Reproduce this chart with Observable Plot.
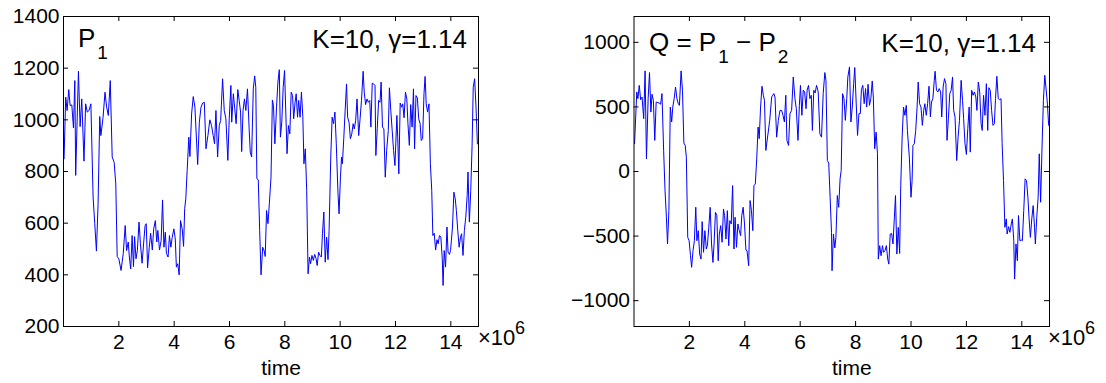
<!DOCTYPE html>
<html><head><meta charset="utf-8">
<script src="https://cdn.jsdelivr.net/npm/d3@7"></script>
<script src="https://cdn.jsdelivr.net/npm/@observablehq/plot@0.6"></script>
<style>
body{margin:0;background:#fff;}
#wrap{display:flex;width:1106px;height:383px;}
svg text{font-family:"Liberation Sans",Arial,Helvetica,sans-serif;}
</style></head><body><div id="wrap"></div>
<script>
// ---- data (time in units of 10^6) ----
const p1Time = [0.02,0.08,0.13,0.19,0.24,0.30,0.36,0.41,0.44,0.54,0.60,0.66,0.74,0.80,0.86,0.92,0.99,1.07,1.13,1.19,1.25,1.31,1.35,1.43,1.50,1.56,1.62,1.69,1.76,1.83,1.89,1.94,2.00,2.08,2.16,2.23,2.28,2.34,2.38,2.43,2.48,2.53,2.57,2.62,2.67,2.73,2.78,2.84,2.90,2.95,2.99,3.04,3.10,3.15,3.21,3.26,3.32,3.37,3.41,3.47,3.53,3.58,3.63,3.68,3.72,3.78,3.83,3.88,3.93,3.99,4.04,4.08,4.13,4.18,4.23,4.29,4.34,4.38,4.42,4.47,4.53,4.57,4.63,4.69,4.75,
4.85,4.91,4.97,5.03,5.09,5.15,5.22,5.29,5.35,5.41,5.46,5.51,5.57,5.63,5.68,5.75,5.81,5.87,5.94,5.99,6.05,6.08,6.14,6.19,6.24,6.30,6.35,6.40,6.44,6.49,6.54,6.59,6.65,6.71,6.75,6.80,6.86,6.91,6.95,6.99,7.04,7.09,7.14,7.20,7.25,7.29,7.34,7.39,7.44,7.50,7.55,7.59,7.64,7.70,7.75,7.80,7.84,7.89,7.94,7.99,8.04,8.08,8.13,8.18,8.23,8.28,8.32,8.37,8.41,8.46,8.50,8.55,8.60,8.65,8.69,8.74,8.79,8.84,8.89,8.93,8.98,9.03,9.08,9.13,9.17,9.22,9.27,9.32,9.36,9.41,9.46,9.51,9.56,9.60,9.66,9.71,9.76,9.81,9.86,9.92,9.96,
10.01,10.05,10.08,10.13,10.18,10.23,10.27,10.32,10.37,10.42,10.47,10.51,10.56,10.61,10.67,10.72,10.77,10.83,10.87,10.92,10.97,11.02,11.07,11.11,11.16,11.21,11.26,11.29,11.34,11.39,11.44,11.48,11.53,11.58,11.63,11.68,11.74,11.78,11.83,11.88,11.93,11.98,12.01,12.05,12.08,12.12,12.17,12.22,12.26,12.31,12.36,12.41,12.45,12.50,12.55,12.60,12.65,12.69,12.74,12.79,12.84,12.89,12.93,12.98,13.03,13.07,13.11,13.16,13.21,13.26,13.31,13.35,13.40,13.45,13.50,13.54,13.59,13.64,13.69,13.72,13.76,13.81,13.86,13.90,13.95,13.99,14.06,14.11,14.16,14.20,14.25,14.30,14.35,14.39,14.44,14.49,14.54,14.59,14.62,14.67,14.72,14.77,14.81,14.86,14.91,14.96];
const p1Values = [849,1088,1036,1117,1055,1058,969,1152,785,1188,974,1081,840,1062,1030,1036,1062,701,598,492,675,1013,939,1010,1107,1049,1017,1152,856,836,752,471,462,417,483,591,494,527,469,423,552,432,548,462,494,604,521,445,527,591,598,427,507,561,496,578,610,527,572,496,533,690,507,565,483,469,552,507,545,578,539,430,443,400,610,578,510,656,694,804,933,858,1023,1090,1049,
827,991,1049,1065,1068,888,939,1000,978,939,907,1036,856,978,997,1159,1036,1004,843,1004,1133,991,1101,1043,985,1117,1075,1030,877,1036,1081,1036,1120,965,875,856,1120,1170,1126,772,768,572,400,507,494,471,649,598,675,778,1077,1055,907,1049,1146,1194,933,991,1126,1191,1010,869,978,946,1107,1094,1004,1068,1101,1010,1075,1010,1107,1013,830,888,727,404,469,443,475,456,479,462,436,488,475,469,559,643,449,546,459,572,856,1010,985,1030,907,720,636,
778,856,830,927,1036,1139,1010,991,927,946,985,965,997,1081,939,1004,1075,1188,1107,1059,1081,1068,1075,972,1142,1139,1133,862,965,1075,1068,1146,972,965,778,881,959,1124,1036,959,881,823,907,1017,933,791,1065,1049,1062,1008,1107,1081,985,901,1059,972,1120,888,1094,1085,1004,985,920,927,1101,1168,1062,1030,1062,830,727,552,561,496,536,520,552,546,462,359,494,430,585,488,479,494,585,720,694,649,572,507,546,559,475,572,623,707,798,604,727,907,1126,1159,1049,907];

const qTime = [0.02,0.10,0.14,0.19,0.24,0.29,0.35,0.40,0.45,0.51,0.56,0.61,0.65,0.70,0.75,0.80,0.86,0.92,0.96,1.01,1.07,1.12,1.17,1.21,1.26,1.31,1.36,1.40,1.45,1.50,1.55,1.60,1.64,1.70,1.75,1.80,1.85,1.89,1.94,1.99,2.04,2.08,2.13,2.18,2.23,2.27,2.32,2.37,2.42,2.46,2.51,2.56,2.61,2.65,2.70,2.75,2.80,2.85,2.89,2.94,2.99,3.04,3.08,3.13,3.18,3.23,3.27,3.32,3.37,3.42,3.46,3.51,3.56,3.61,3.65,3.70,3.75,3.80,3.85,3.89,3.94,3.99,4.04,4.08,4.14,4.19,4.24,4.29,4.33,4.38,4.43,4.48,4.52,4.57,4.62,4.67,4.71,4.76,
4.90,4.97,5.05,5.09,5.15,5.21,5.27,5.33,5.38,5.43,5.48,5.52,5.58,5.63,5.69,5.75,5.81,5.86,5.92,5.97,6.01,6.06,6.11,6.16,6.21,6.25,6.30,6.35,6.40,6.44,6.49,6.54,6.59,6.65,6.71,6.77,6.83,6.89,6.93,6.98,7.03,7.08,7.13,7.15,7.20,7.25,7.29,7.34,7.39,7.44,7.48,7.53,7.58,7.63,7.68,7.72,7.78,7.83,7.88,7.93,7.97,8.02,8.07,8.12,8.17,8.21,8.26,8.31,8.36,8.40,8.45,8.50,8.55,8.60,8.64,8.69,8.74,8.79,8.82,8.87,8.92,8.97,9.01,9.06,9.11,9.16,9.20,9.25,9.30,9.35,9.40,9.44,9.49,9.54,9.59,9.63,9.68,9.73,9.78,9.83,9.87,
9.94,10.00,10.04,10.07,10.12,10.17,10.22,10.26,10.31,10.36,10.41,10.46,10.50,10.55,10.60,10.65,10.70,10.74,10.79,10.84,10.87,10.92,10.97,11.02,11.07,11.11,11.16,11.21,11.26,11.30,11.35,11.40,11.45,11.50,11.54,11.59,11.65,11.70,11.75,11.81,11.86,11.90,11.95,12.00,12.05,12.10,12.14,12.19,12.24,12.29,12.34,12.38,12.43,12.48,12.53,12.57,12.62,12.67,12.72,12.77,12.81,12.86,12.91,12.96,13.01,13.05,13.10,13.15,13.20,13.25,13.29,13.34,13.39,13.44,13.47,13.52,13.57,13.62,13.66,13.71,13.74,13.79,13.84,13.88,13.93,13.98,14.02,14.07,14.12,14.17,14.22,14.26,14.31,14.36,14.41,14.46,14.49,14.54,14.59,14.63,14.68,14.73,14.78,14.83,14.87,14.92,14.97];
const qValues = [215,616,564,667,556,577,409,779,98,564,766,460,598,551,241,538,533,530,520,603,163,-147,-354,-561,-303,499,383,499,564,654,564,525,512,779,629,220,202,111,-510,-536,-652,-742,-613,-536,-277,-536,-458,-639,-678,-388,-626,-458,-600,-574,-432,-277,-561,-704,-561,-316,-341,-691,-484,-419,-548,-290,-341,-523,-303,-574,-380,-406,-109,-600,-354,-587,-406,-458,-497,-341,-277,-406,-608,-613,-730,-225,-303,-458,-109,-96,98,344,254,499,660,590,551,163,
396,577,603,577,266,396,473,473,435,383,590,241,202,448,473,732,564,486,241,512,667,435,629,616,486,629,667,564,590,318,629,608,667,616,292,266,603,766,706,85,65,-199,-471,-768,-484,-592,-510,-186,-277,-57,8,603,564,396,564,732,810,383,499,680,805,538,279,448,448,634,667,525,642,499,675,512,564,701,577,176,305,137,-678,-574,-652,-574,-626,-613,-574,-678,-717,-484,-479,-561,-354,-186,-639,-432,-634,-109,266,499,435,512,318,
111,-199,-70,202,215,318,499,693,525,499,357,473,525,435,525,660,422,538,564,706,776,629,616,642,616,422,654,719,680,241,409,603,629,732,473,422,85,266,396,706,551,409,215,132,331,499,150,629,590,616,577,473,693,616,370,318,590,435,680,318,649,629,473,357,370,564,737,564,556,564,215,-70,-432,-367,-484,-427,-471,-406,-367,-536,-833,-561,-691,-341,-536,-530,-536,-303,-57,-70,-199,-354,-510,-367,-264,-432,-561,-354,-199,137,-238,189,551,745,654,538,357];

const xTicks = [2, 4, 6, 8, 10, 12, 14];
const p1Ticks = [200, 400, 600, 800, 1000, 1200, 1400];
const qTicks = [-1000, -500, 0, 500, 1000];
const xDomain = [0, 15];
const p1Domain = [200, 1400];
const qDomain = [-1200, 1200];
const annotation = "K=10, \u03b3=1.14";

function panel({time, values, yDomain, yTicks, marginLeft, marginRight}) {
  const W = 553, H = 383, mt = 16, mb = 57;
  const pw = W - marginLeft - marginRight, ph = H - mt - mb;
  const data = time.map((t, i) => ({t, v: values[i]}));
  return Plot.plot({
    width: W, height: H, marginTop: mt, marginBottom: mb, marginLeft, marginRight,
    style: {fontFamily: "'Liberation Sans', Arial, sans-serif", fontSize: "21px", color: "#000", background: "#fff", overflow: "visible"},
    x: {domain: xDomain},
    y: {domain: yDomain},
    marks: [
      Plot.line(data, {x: "t", y: "v", stroke: "#0000ff", strokeWidth: 1}),
      Plot.tickX(xTicks, {x: d => d, insetTop: ph - 5, stroke: "#000"}),
      Plot.tickX(xTicks, {x: d => d, insetBottom: ph - 5, stroke: "#000"}),
      Plot.tickY(yTicks, {y: d => d, insetRight: pw - 5, stroke: "#000"}),
      Plot.tickY(yTicks, {y: d => d, insetLeft: pw - 5, stroke: "#000"}),
      Plot.frame({stroke: "#000"}),
      Plot.axisX({ticks: xTicks, tickSize: 0, tickPadding: 8, label: null, fontSize: 21, tickFormat: d => String(d)}),
      Plot.axisY({ticks: yTicks, tickSize: 0, tickPadding: 4, label: null, fontSize: 21, tickFormat: d => d < 0 ? "\u2212" + Math.abs(d) : String(d)}),
      Plot.text(["time"], {frameAnchor: "bottom", lineAnchor: "middle", dx: 10, dy: 42, fontSize: 21, text: d => d})
    ]
  });
}

const wrap = document.getElementById("wrap");

const left = panel({time: p1Time, values: p1Values, yDomain: p1Domain, yTicks: p1Ticks, marginLeft: 63, marginRight: 75});
const right = panel({time: qTime, values: qValues, yDomain: qDomain, yTicks: qTicks, marginLeft: 80.5, marginRight: 57});
wrap.append(left, right);

function addTitle(svg, x, y, parts) {
  const t = d3.select(svg).append("text").attr("x", x).attr("y", y)
    .attr("text-anchor", "start").attr("font-size", 26).attr("fill", "#000");
  let sub = false;
  parts.forEach(p => {
    const s = t.append("tspan").text(p.text);
    if (p.sub) { s.attr("font-size", 19).attr("dy", 12).attr("dx", 2); sub = true; }
    else if (sub) { s.attr("dy", -12); sub = false; }
  });
}
function addExp(svg, x) {
  const g = d3.select(svg);
  g.append("text").attr("x", x).attr("y", 345).attr("text-anchor", "start").attr("font-size", 22).text("\u00d710");
  g.append("text").attr("x", x + 37).attr("y", 334).attr("text-anchor", "start").attr("font-size", 18).text("6");
}

addTitle(left, 78, 47, [{text: "P"}, {text: "1", sub: true}]);
d3.select(left).append("text").attr("x", 467).attr("y", 48).attr("text-anchor", "end").attr("font-size", 26).text(annotation);
addExp(left, 478);

addTitle(right, 96, 51, [{text: "Q = P"}, {text: "1", sub: true}, {text: " \u2212 P"}, {text: "2", sub: true}]);
d3.select(right).append("text").attr("x", 483).attr("y", 51.5).attr("text-anchor", "end").attr("font-size", 26).text(annotation);
addExp(right, 495);
</script>
</body></html>
